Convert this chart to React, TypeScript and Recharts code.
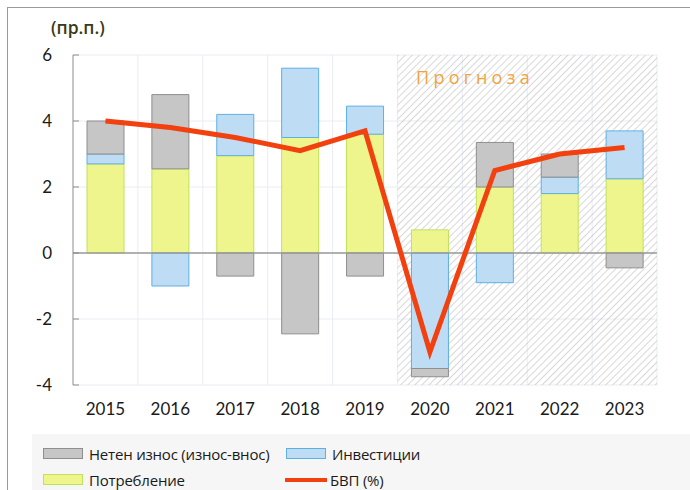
import { ComposedChart, Bar, Line, XAxis, YAxis, CartesianGrid, ReferenceArea, ReferenceLine } from 'recharts';

const years = ['2015', '2016', '2017', '2018', '2019', '2020', '2021', '2022', '2023'];
const consumption = [2.7, 2.55, 2.95, 3.5, 3.6, 0.7, 2.0, 1.8, 2.25];
const investment = [0.3, -1.0, 1.25, 2.1, 0.85, -3.5, -0.9, 0.5, 1.45];
const netExports = [1.0, 2.25, -0.7, -2.45, -0.7, -0.25, 1.35, 0.7, -0.45];
const gdp = [4.0, 3.8, 3.5, 3.1, 3.7, -3.0, 2.5, 3.0, 3.2];
const yTicks = [-4, -2, 0, 2, 4, 6];

const data = years.map((year, i) => ({
  year,
  consumption: consumption[i],
  investment: investment[i],
  netExports: netExports[i],
  gdp: gdp[i],
}));

const FONT = "Lato, 'Open Sans', sans-serif";
const TEXT_FONT = "'Open Sans', sans-serif";

function Swatch({ fill, stroke }: { fill: string; stroke: string }) {
  return (
    <span
      style={{
        display: 'inline-block',
        width: 38,
        height: 9,
        background: fill,
        border: `1px solid ${stroke}`,
        marginRight: 6,
        verticalAlign: 'middle',
      }}
    />
  );
}

const legendText = {
  position: 'absolute' as const,
  fontSize: 15,
  letterSpacing: -0.2,
  color: '#1a1a1a',
  lineHeight: '18px',
  fontFamily: TEXT_FONT,
};

export default function App() {
  return (
    <div style={{ position: 'absolute', left: 0, top: 0, width: 690, height: 490, background: '#fff', overflow: 'hidden', fontFamily: FONT }}>
      <div style={{ position: 'absolute', left: 7, top: 7, width: 700, height: 500, borderLeft: '1.5px solid #9a9a9a', borderTop: '1.5px solid #9a9a9a' }} />
      <div style={{ position: 'absolute', left: 51, top: 15, fontSize: 17.5, fontWeight: 600, color: '#3a3a14', fontFamily: TEXT_FONT }}>(пр.п.)</div>

      <div style={{ position: 'absolute', left: 0, top: 0 }}>
        <ComposedChart
          width={690}
          height={490}
          data={data}
          stackOffset="sign"
          margin={{ top: 55, right: 33, left: 0, bottom: 75 }}
        >
          <defs>
            <pattern id="hatch" patternUnits="userSpaceOnUse" width="5" height="5" patternTransform="rotate(45)">
              <line x1="0" y1="0" x2="0" y2="5" stroke="#bdbdbd" strokeWidth="1.4" />
            </pattern>
          </defs>
          <CartesianGrid
            stroke="#e9ecf3"
            verticalCoordinatesGenerator={({ offset }: any) =>
              years.map((_, i) => offset.left + ((i + 1) * offset.width) / years.length)
            }
          />
          <XAxis
            dataKey="year"
            axisLine={false}
            tickLine={false}
            tickMargin={12}
            tick={{ fill: '#1a1a1a', fontSize: 17, fontFamily: FONT }}
            height={30}
          />
          <YAxis
            domain={[-4, 6]}
            ticks={yTicks}
            width={73}
            axisLine={{ stroke: '#8c8c8c' }}
            tickLine={{ stroke: '#8c8c8c' }}
            tickSize={-6}
            tickMargin={27}
            tick={{ fill: '#1a1a1a', fontSize: 17, fontFamily: FONT }}
          />
          <Bar dataKey="consumption" stackId="a" barSize={37} fill="#eef58c" stroke="#bfe25a" isAnimationActive={false} />
          <Bar dataKey="investment" stackId="a" barSize={37} fill="#bfdcf5" stroke="#5eafe2" isAnimationActive={false} />
          <Bar dataKey="netExports" stackId="a" barSize={37} fill="#c6c6c6" stroke="#8e8e8e" isAnimationActive={false} />
          <ReferenceLine y={0} stroke="#9a9a9a" strokeWidth={1.5} />
          <ReferenceArea x1="2020" y1={-4} y2={6} fill="url(#hatch)" fillOpacity={0.85} stroke="none" />
          <Line
            dataKey="gdp"
            stroke="#f2400f"
            strokeWidth={5}
            dot={false}
            strokeLinejoin="miter"
            isAnimationActive={false}
          />
        </ComposedChart>
      </div>

      <div
        style={{
          position: 'absolute',
          left: 416,
          top: 65,
          fontSize: 18,
          letterSpacing: 4.3,
          color: '#f3a43c',
          fontFamily: TEXT_FONT,
        }}
      >
        Прогноза
      </div>

      <div style={{ position: 'absolute', left: 32, top: 434, width: 660, height: 56, background: '#f6f6f6' }} />
      <div style={{ ...legendText, left: 43, top: 443 }}>
        <Swatch fill="#c6c6c6" stroke="#8e8e8e" />
        <span style={{ verticalAlign: 'middle' }}>Нетен износ (износ-внос)</span>
      </div>
      <div style={{ ...legendText, left: 286, top: 443 }}>
        <Swatch fill="#bfdcf5" stroke="#5eafe2" />
        <span style={{ verticalAlign: 'middle' }}>Инвестиции</span>
      </div>
      <div style={{ ...legendText, left: 43, top: 469 }}>
        <Swatch fill="#eef58c" stroke="#bfe25a" />
        <span style={{ verticalAlign: 'middle' }}>Потребление</span>
      </div>
      <div style={{ ...legendText, left: 285, top: 469 }}>
        <span style={{ display: 'inline-block', width: 42, height: 4, background: '#f2400f', marginRight: 3, verticalAlign: 'middle' }} />
        <span style={{ verticalAlign: 'middle' }}>БВП (%)</span>
      </div>
    </div>
  );
}
